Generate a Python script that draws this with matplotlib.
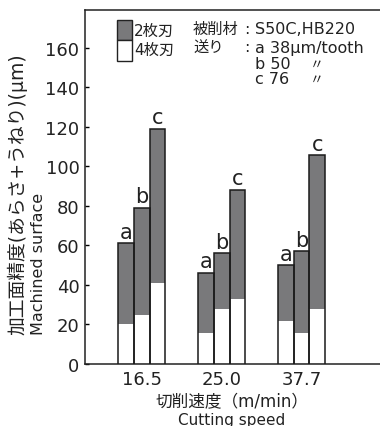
import matplotlib
matplotlib.use("Agg")
import matplotlib.pyplot as plt
import numpy as np
from matplotlib.patches import Rectangle

plt.rcParams['font.family'] = ['DejaVu Sans', 'Noto Sans CJK JP']

speeds = ["16.5", "25.0", "37.7"]
feeds = ["a", "b", "c"]
# total height (2枚刃) and lower white part (4枚刃)
two_blade = [[61, 79, 119], [46, 56, 88], [50, 57, 105.5]]
four_blade = [[20, 25, 41], [15.5, 28, 33], [21.5, 15.5, 28]]

gray = "#79797b"
ink = "#222222"
fig = plt.figure(figsize=(3.8, 4.27), dpi=100)
ax = fig.add_axes([0.2237, 0.1452, 0.7763, 0.829])

w = 0.196
x = np.arange(len(speeds))
for gi in range(len(speeds)):
    for fi in range(len(feeds)):
        xc = x[gi] + (fi - 1) * w
        ax.bar(xc, two_blade[gi][fi], width=w, color=gray, edgecolor="none", linewidth=0, zorder=2)
        ax.bar(xc, four_blade[gi][fi], width=w, color="white", edgecolor="none", linewidth=0, zorder=3)
        ax.bar(xc, two_blade[gi][fi], width=w, color="none", edgecolor="#1a1a1a", linewidth=1.1, zorder=4)
        ax.text(xc, two_blade[gi][fi] + 0.8, feeds[fi], ha="center", va="bottom", fontsize=15, color=ink)

ax.set_xlim(-0.71, 2.98)
ax.set_ylim(0, 179)
ax.set_xticks(x)
ax.set_xticklabels(speeds, fontsize=13, color=ink)
ax.set_yticks([0, 20, 40, 60, 80, 100, 120, 140, 160])
ax.tick_params(axis="y", direction="in", length=3, width=1, labelsize=13, labelcolor=ink, pad=4)
ax.tick_params(axis="x", length=0, pad=4)
ax.spines["right"].set_visible(False)
for s in ["left", "top", "bottom"]:
    ax.spines[s].set_linewidth(1.1)
    ax.spines[s].set_color(ink)

# axis labels
fig.text(17/380, 1 - 335/427, "加工面精度(あらさ+うねり)(μm)", rotation=90, ha="center", va="bottom", fontsize=13.5, color=ink)
fig.text(39/380, 1 - 335/427, "Machined surface", rotation=90, ha="center", va="bottom", fontsize=11.5, color=ink)
fig.text(232/380, 1 - 402/427, "切削速度（m/min）", ha="center", va="center", fontsize=12, color=ink)
fig.text(232/380, 1 - 421/427, "Cutting speed", ha="center", va="center", fontsize=11, color=ink)

# legend
fig.patches.append(Rectangle((117/380, 1 - 41/427), 15/380, 20/427, transform=fig.transFigure, facecolor=gray, edgecolor=ink, linewidth=1))
fig.patches.append(Rectangle((117/380, 1 - 62/427), 15/380, 21/427, transform=fig.transFigure, facecolor="white", edgecolor=ink, linewidth=1))
fig.text(134/380, 1 - 31/427, "2枚刃", ha="left", va="center", fontsize=11, color=ink)
fig.text(134/380, 1 - 50/427, "4枚刃", ha="left", va="center", fontsize=11, color=ink)
fig.text(193/380, 1 - 29/427, "被削材", ha="left", va="center", fontsize=11, color=ink)
fig.text(193/380, 1 - 48/427, "送り", ha="left", va="center", fontsize=11, color=ink)
fig.text(244/380, 1 - 29/427, ":", ha="left", va="center", fontsize=11.5, color=ink)
fig.text(244/380, 1 - 48/427, ":", ha="left", va="center", fontsize=11.5, color=ink)
fig.text(255/380, 1 - 29/427, "S50C,HB220", ha="left", va="center", fontsize=11.5, color=ink)
fig.text(255/380, 1 - 48/427, "a 38μm/tooth", ha="left", va="center", fontsize=11.5, color=ink)
fig.text(255/380, 1 - 65/427, "b 50", ha="left", va="center", fontsize=11.5, color=ink)
fig.text(255/380, 1 - 80/427, "c 76", ha="left", va="center", fontsize=11.5, color=ink)
fig.text(310/380, 1 - 65/427, "〃", ha="left", va="center", fontsize=10, color=ink)
fig.text(310/380, 1 - 80/427, "〃", ha="left", va="center", fontsize=10, color=ink)

fig.savefig("out.png", dpi=100)
